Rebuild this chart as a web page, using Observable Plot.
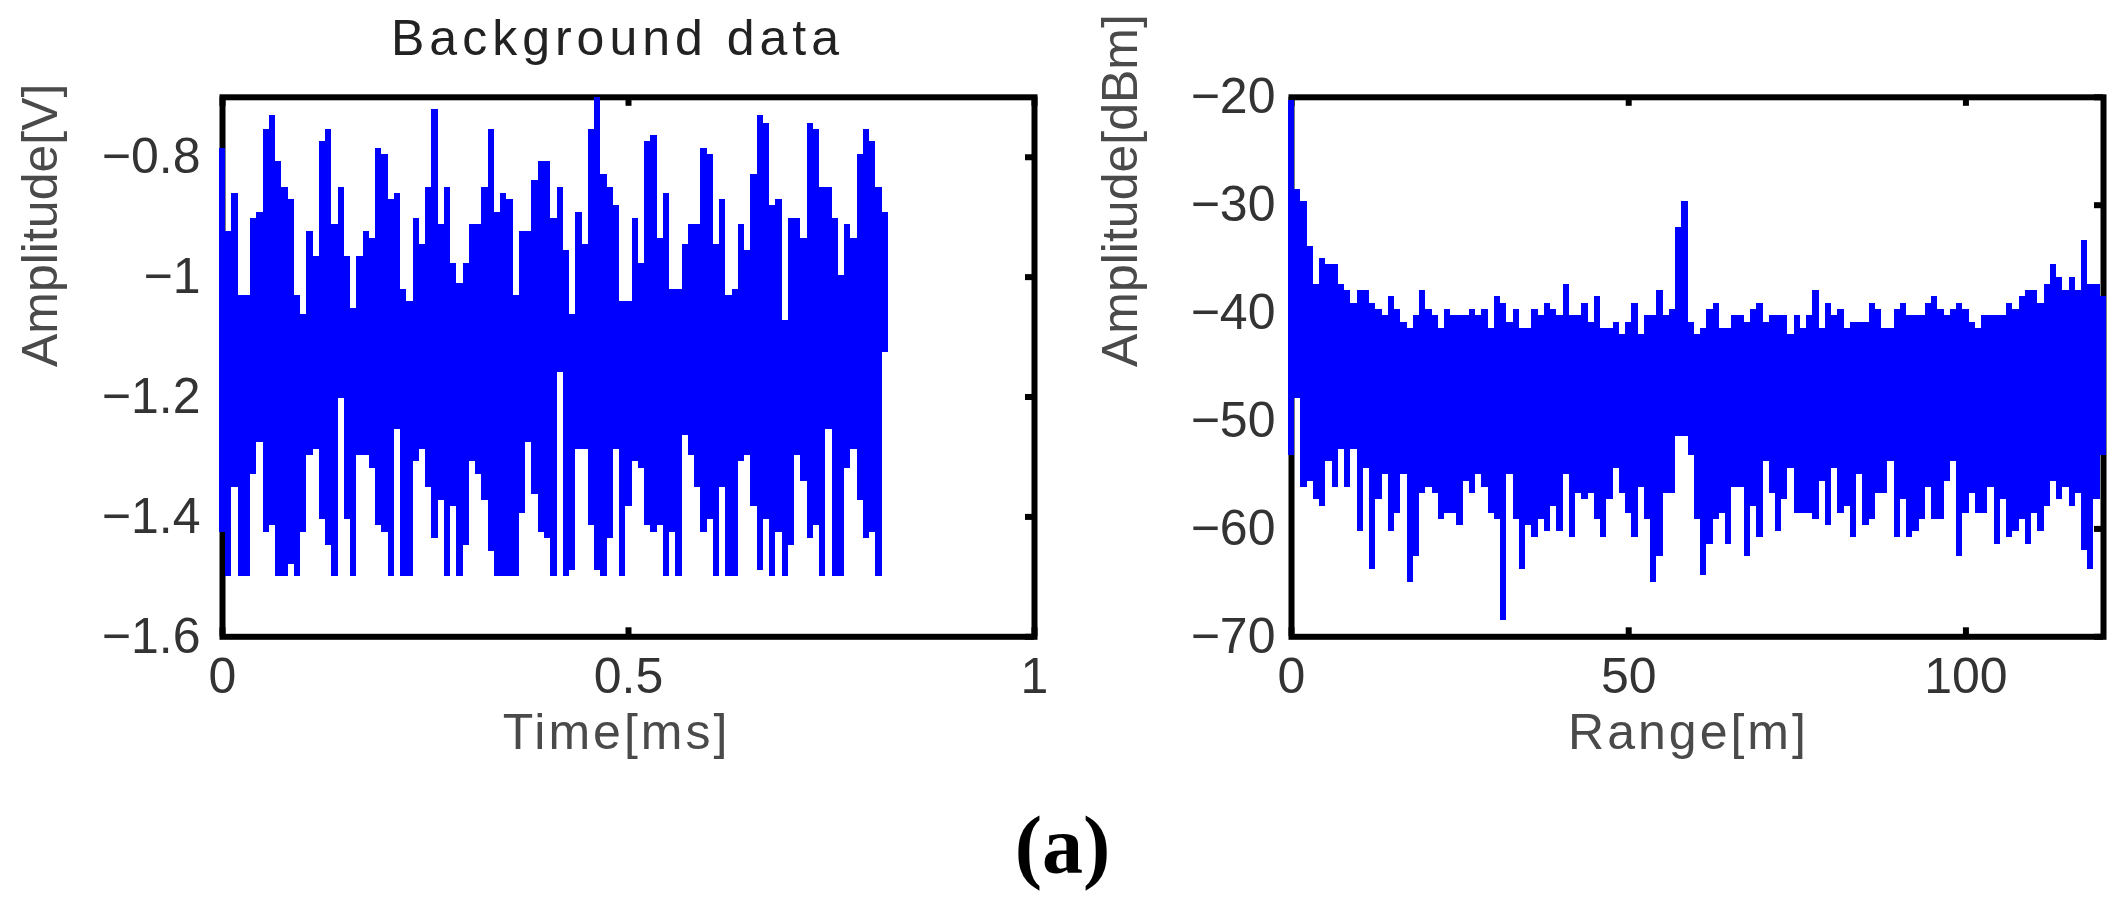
<!DOCTYPE html>
<html>
<head>
<meta charset="utf-8">
<script src="https://cdn.jsdelivr.net/npm/d3@7"></script>
<script src="https://cdn.jsdelivr.net/npm/@observablehq/plot@0.6"></script>
<style>
  html, body { margin: 0; padding: 0; background: #fff; }
  #wrap { position: relative; width: 2125px; height: 906px; overflow: hidden; background: #fff; }
  #left { position: absolute; left: 0; top: 0; width: 1100px; }
  #right { position: absolute; left: 1100px; top: 0; width: 1025px; }
  #cap { position: absolute; left: 0; top: 806px; width: 2125px; text-align: center;
         font: bold 82px "Liberation Serif", "Times New Roman", serif; line-height: 80px; color: #000; }
</style>
</head>
<body>
<div id="wrap">
  <div id="left"></div>
  <div id="right"></div>
  <div id="cap">(a)</div>
</div>
<script>
// ---- Left panel: background time-domain data (column max / min envelope) ----
const timeTitle = "Background data";
const timeStep = 0.0077; // ms per displayed column
const timeHi = [
  -0.785,-0.924,-0.860,-1.031,-1.031,-0.903,-0.892,-0.753,-0.731,-0.807,
  -0.850,-0.871,-1.031,-1.062,-0.924,-0.966,-0.774,-0.753,-0.913,-0.850,
  -0.966,-1.052,-0.966,-0.924,-0.935,-0.785,-0.796,-0.871,-0.860,-1.020,
  -1.041,-0.903,-0.945,-0.850,-0.721,-0.913,-0.850,-0.977,-1.010,-0.977,
  -0.913,-0.913,-0.850,-0.753,-0.892,-0.860,-0.871,-1.031,-0.924,-0.924,
  -0.839,-0.807,-0.807,-0.903,-0.850,-0.956,-1.062,-0.892,-0.945,-0.753,
  -0.700,-0.828,-0.850,-0.881,-1.041,-1.041,-0.903,-0.977,-0.774,-0.764,
  -0.935,-0.860,-1.020,-1.020,-0.945,-0.913,-0.913,-0.785,-0.796,-0.945,
  -0.871,-1.031,-1.020,-0.913,-0.956,-0.828,-0.731,-0.743,-0.881,-0.871,
  -1.073,-0.903,-0.903,-0.935,-0.743,-0.753,-0.850,-0.850,-0.903,-0.998,
  -0.913,-0.935,-0.796,-0.753,-0.774,-0.850,-0.892
];
const timeLo = [
  -1.426,-1.500,-1.351,-1.500,-1.500,-1.330,-1.276,-1.426,-1.415,-1.500,
  -1.500,-1.480,-1.500,-1.426,-1.297,-1.287,-1.405,-1.447,-1.500,-1.202,
  -1.405,-1.500,-1.297,-1.297,-1.319,-1.415,-1.426,-1.500,-1.255,-1.500,
  -1.500,-1.308,-1.287,-1.351,-1.436,-1.372,-1.500,-1.383,-1.500,-1.447,
  -1.308,-1.330,-1.372,-1.457,-1.500,-1.500,-1.500,-1.500,-1.394,-1.276,
  -1.362,-1.426,-1.436,-1.500,-1.159,-1.500,-1.489,-1.287,-1.287,-1.415,
  -1.489,-1.500,-1.436,-1.287,-1.500,-1.383,-1.308,-1.319,-1.415,-1.426,
  -1.415,-1.500,-1.426,-1.500,-1.265,-1.297,-1.351,-1.426,-1.405,-1.500,
  -1.351,-1.500,-1.500,-1.308,-1.297,-1.383,-1.489,-1.405,-1.500,-1.426,
  -1.500,-1.447,-1.297,-1.341,-1.436,-1.415,-1.500,-1.255,-1.500,-1.500,
  -1.319,-1.287,-1.372,-1.436,-1.426,-1.500,-1.126
];
const timeXTicks = [0, 0.5, 1];
const timeYTicks = [-1.6, -1.4, -1.2, -1, -0.8];
const timeXLabel = "Time[ms]";
const timeYLabel = "Amplitude[V]";

// ---- Right panel: range profile (column max / min envelope) ----
const rangeStep = 0.926; // m per displayed column
const rangeHi = [
  -20.29,-28.54,-29.70,-33.79,-37.35,-34.98,-35.54,-35.54,-37.35,-37.94,
  -39.10,-37.94,-37.94,-39.10,-39.69,-40.25,-38.50,-39.69,-40.85,-41.41,
  -40.25,-37.94,-39.69,-40.25,-41.41,-39.69,-40.25,-40.25,-40.25,-39.69,
  -40.25,-39.69,-41.41,-38.50,-39.10,-40.85,-39.69,-41.41,-41.41,-39.69,
  -40.25,-39.10,-39.69,-40.25,-37.35,-40.25,-40.25,-39.10,-40.85,-38.50,
  -41.41,-41.41,-40.85,-42.00,-40.85,-39.10,-42.00,-40.25,-40.25,-37.94,
  -40.25,-39.69,-32.04,-29.70,-40.85,-42.00,-41.41,-39.69,-39.10,-41.41,
  -41.41,-40.25,-40.25,-40.85,-39.69,-39.10,-40.85,-40.25,-40.25,-40.25,
  -42.00,-40.25,-41.41,-40.25,-37.94,-41.41,-39.10,-40.25,-39.69,-41.41,
  -40.85,-40.85,-40.85,-39.10,-39.69,-41.41,-41.41,-39.69,-39.10,-40.25,
  -40.25,-40.25,-39.10,-38.50,-39.69,-40.25,-39.69,-39.10,-39.69,-40.85,
  -41.41,-40.25,-40.25,-40.25,-40.25,-39.10,-39.69,-38.50,-37.94,-37.94,
  -39.10,-37.35,-35.54,-36.69,-37.94,-36.69,-37.94,-33.23,-37.35,-37.35,
  -38.50
];
const rangeLo = [
  -53.19,-47.94,-56.16,-55.60,-57.31,-57.91,-53.78,-56.16,-52.63,-56.16,
  -52.63,-60.28,-54.41,-63.75,-57.31,-55.00,-60.28,-58.53,-55.00,-64.97,
  -62.59,-56.75,-56.16,-56.75,-59.13,-58.53,-58.53,-59.69,-55.60,-56.75,
  -55.00,-56.16,-58.53,-59.13,-68.50,-55.00,-59.13,-63.75,-59.69,-60.84,
  -59.13,-60.28,-57.91,-60.28,-55.00,-60.84,-56.75,-57.31,-56.75,-59.13,
  -60.84,-57.31,-54.41,-56.75,-58.53,-60.84,-56.16,-59.13,-64.97,-62.59,
  -56.75,-56.75,-51.44,-51.44,-53.19,-59.13,-64.34,-61.44,-59.13,-58.53,
  -61.44,-56.16,-56.16,-62.59,-57.91,-60.84,-53.78,-56.75,-60.28,-57.31,
  -54.41,-58.53,-58.53,-58.53,-59.13,-55.60,-59.69,-54.41,-58.53,-57.91,
  -60.84,-55.00,-59.69,-59.13,-56.75,-56.75,-53.78,-60.84,-57.31,-60.84,
  -60.28,-59.13,-56.16,-59.13,-59.13,-55.60,-53.78,-62.59,-58.53,-56.75,
  -58.53,-58.53,-56.16,-61.44,-57.31,-60.84,-60.28,-59.13,-61.44,-58.53,
  -60.28,-57.91,-55.60,-57.31,-56.16,-57.91,-56.75,-62.03,-63.75,-57.31,
  -53.19
];
const rangeXTicks = [0, 50, 100];
const rangeYTicks = [-70, -60, -50, -40, -30, -20];
const rangeXLabel = "Range[m]";
const rangeYLabel = "Amplitude[dBm]";

const BLUE = "#0000ff";
const FONT = "'Liberation Sans', Arial, Helvetica, sans-serif";
const TICK = 9; // inward tick length (px from frame line centre)
const fmt = d => (d < 0 ? "\u2212" : "") + String(Math.abs(d));

function panel({width, height, mL, mR, mT, mB, xDomain, yDomain, xTicks, yTicks,
                rows, step, yPad, xLabel, yLabel, xLabelDx, yLabelDx, title}) {
  const pw = width - mL - mR, ph = height - mT - mB;
  const marks = [
    Plot.frame({stroke: "#000", strokeWidth: 6}),
    Plot.ruleX(xTicks, {x: d => d, stroke: "#000", strokeWidth: 6, insetBottom: ph - TICK}),
    Plot.ruleX(xTicks, {x: d => d, stroke: "#000", strokeWidth: 6, insetTop: ph - TICK}),
    Plot.ruleY(yTicks, {y: d => d, stroke: "#000", strokeWidth: 6, insetLeft: pw - TICK}),
    Plot.rect(rows, {x1: d => d.x - step / 2, x2: d => d.x + step / 2, y1: "lo", y2: "hi",
                     fill: BLUE, shapeRendering: "crispEdges"}),
    Plot.text([yLabel], {text: d => d, frameAnchor: "left", dx: yLabelDx, rotate: -90, fill: "#4a4a4a"}),
    Plot.text([xLabel], {text: d => d, frameAnchor: "bottom", dx: xLabelDx, dy: 77, lineAnchor: "top", fill: "#4a4a4a"})
  ];
  if (title) marks.push(Plot.text([title], {text: d => d, frameAnchor: "top", dx: -11, dy: -78, lineAnchor: "top", fill: "#222"}));
  return Plot.plot({
    width, height, marginLeft: mL, marginRight: mR, marginTop: mT, marginBottom: mB,
    style: {fontFamily: FONT, fontSize: "50px", color: "#333", background: "transparent", overflow: "visible"},
    x: {domain: xDomain, ticks: xTicks, tickSize: 0, tickPadding: 21, tickFormat: fmt, label: null},
    y: {domain: yDomain, ticks: yTicks, tickSize: 0, tickPadding: yPad, tickFormat: fmt, label: null},
    marks
  });
}

const timeRows = timeHi.map((hi, i) => ({x: i * timeStep, hi, lo: timeLo[i]}));
const rangeRows = rangeHi.map((hi, i) => ({x: i * rangeStep, hi, lo: rangeLo[i]}));

const leftSvg = panel({
  width: 1100, height: 800, mL: 222, mR: 1100 - 1034, mT: 96.8, mB: 800 - 636.3,
  xDomain: [0, 1], yDomain: [-1.6, -0.7], xTicks: timeXTicks, yTicks: timeYTicks,
  rows: timeRows, step: timeStep, yPad: 22, xLabel: timeXLabel, yLabel: timeYLabel,
  xLabelDx: -12, yLabelDx: -182, title: timeTitle
});
const rightSvg = panel({
  width: 1025, height: 800, mL: 191, mR: 1025 - 1003, mT: 96.8, mB: 800 - 636.3,
  xDomain: [0, 120.4], yDomain: [-70, -20], xTicks: rangeXTicks, yTicks: rangeYTicks,
  rows: rangeRows, step: rangeStep, yPad: 16, xLabel: rangeXLabel, yLabel: rangeYLabel,
  xLabelDx: -9, yLabelDx: -171, title: null
});

document.getElementById("left").appendChild(leftSvg);
document.getElementById("right").appendChild(rightSvg);

const spacing = {[timeTitle]: "5px", [timeXLabel]: "3px", [rangeXLabel]: "3px"};
[leftSvg, rightSvg].forEach(svg => {
  d3.select(svg).selectAll("text").each(function () {
    const s = spacing[this.textContent];
    if (s) d3.select(this).attr("letter-spacing", s);
  });
});
</script>
</body>
</html>
